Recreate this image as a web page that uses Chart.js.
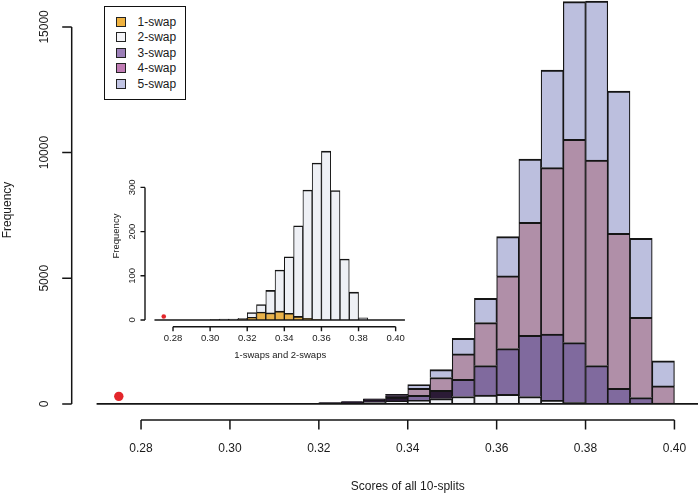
<!DOCTYPE html>
<html>
<head>
<meta charset="utf-8">
<script src="https://cdn.jsdelivr.net/npm/chart.js@4/dist/chart.umd.min.js"></script>
<style>
html,body{margin:0;padding:0;background:#fff;}
#wrap{position:relative;width:698px;height:498px;overflow:hidden;background:#fff;}
#wrap canvas{position:absolute;left:0;top:0;}
#legend{position:absolute;left:104px;top:6px;width:82px;height:94px;box-sizing:border-box;border:1.5px solid #111;background:#fff;font:12px "Liberation Sans",Arial,Helvetica,sans-serif;color:#1a1a1a;}
#legend .sw{position:absolute;left:10.5px;width:10px;height:10px;box-sizing:border-box;border:1px solid #222;}
#legend .lb{position:absolute;left:32.5px;line-height:14px;height:14px;white-space:nowrap;}
</style>
</head>
<body>
<div id="wrap">
  <canvas id="main" width="698" height="498"></canvas>
  <canvas id="inset" width="698" height="498"></canvas>
  <div id="legend"></div>
</div>
<script>
// ---------- data ----------
// left edges of the histogram bins (bin width 0.005)
const bins = [0.300,0.305,0.310,0.315,0.320,0.325,0.330,0.335,0.340,0.345,
              0.350,0.355,0.360,0.365,0.370,0.375,0.380,0.385,0.390,0.395];
const BIN_W = 0.005;
const seriesNames = ['1-swap','2-swap','3-swap','4-swap','5-swap'];
const swap1 = [0,0,0,1,6,18,16,20,15,8,4,1,0,0,0,0,0,0,0,0];
const swap2 = [1,2,2,3,11,17,51,93,128,205,290,354,382,293,138,63,5,0,0,0];
const swap3 = [0,0,1,3,22,38,85,152,202,327,688,1170,1818,2437,2640,2377,1520,624,252,30];
const swap4 = [0,0,0,1,7,12,30,60,279,510,1007,1710,2892,4498,6623,8089,8181,6166,3196,686];
const swap5 = [0,0,0,0,4,8,17,60,145,316,624,969,1565,2518,3886,5475,6324,5660,3142,995];
const mainXTicks = [0.28,0.30,0.32,0.34,0.36,0.38,0.40];
const mainYTicks = [0,5000,10000,15000];
const insetXTicks = [0.28,0.30,0.32,0.34,0.36,0.38,0.40];
const insetYTicks = [0,100,200,300];
const observedScore = [0.275];   // red point
const observedMainY = [300];
const observedInsetY = [8];

// ---------- styles ----------
const FONT = '"Liberation Sans", Arial, Helvetica, sans-serif';
const barColors = ['#e9b24a','#f2f3f8','#806a9e','#b08fa8','#bcbfde'];
const insetColors = ['#e9b24a','#eef0f5'];
const legendColors = ['#efb23f','#f4f4f8','#9c7fb8','#c07cb4','#c1c4e3'];
const DARK = '#2b1b36';
const darkTailUpTo = 0.3375;      // tail bins drawn dark in the main plot
const darkExtra3 = [0.345];       // 3-swap bin drawn dark

const seriesVals = [swap1, swap2, swap3, swap4, swap5];
function pts(vals){ return bins.map((b,i)=>({x: b + BIN_W/2, y: vals[i]})); }

const rAxes = {
  id: 'rAxes',
  afterDatasetsDraw(chart, args, o){
    const ctx = chart.ctx, xs = chart.scales.x, ys = chart.scales.y, a = chart.chartArea;
    ctx.save();
    ctx.strokeStyle = '#141414';
    ctx.fillStyle = '#1a1a1a';
    ctx.lineCap = 'butt';
    // zero line of the histogram
    const y0 = ys.getPixelForValue(0);
    ctx.lineWidth = o.baseLw;
    ctx.beginPath();
    ctx.moveTo(xs.getPixelForValue(o.baseFrom), y0);
    ctx.lineTo(xs.getPixelForValue(o.baseTo), y0);
    ctx.stroke();
    // x axis
    ctx.lineWidth = o.lw;
    const xb = a.bottom;
    ctx.beginPath();
    ctx.moveTo(xs.getPixelForValue(o.xTicks[0]), xb);
    ctx.lineTo(xs.getPixelForValue(o.xTicks[o.xTicks.length-1]), xb);
    o.xTicks.forEach(t => { const px = xs.getPixelForValue(t); ctx.moveTo(px, xb); ctx.lineTo(px, xb + o.tick); });
    ctx.stroke();
    ctx.font = o.fontSize + 'px ' + FONT;
    ctx.textAlign = 'center';
    ctx.textBaseline = 'middle';
    o.xTicks.forEach(t => ctx.fillText(t.toFixed(2), xs.getPixelForValue(t), xb + o.xLabOff));
    ctx.fillText(o.xTitle, xs.getPixelForValue(o.xTitleAt), xb + o.xTitleOff);
    // y axis
    const xl = a.left;
    ctx.beginPath();
    ctx.moveTo(xl, ys.getPixelForValue(o.yTicks[0]));
    ctx.lineTo(xl, ys.getPixelForValue(o.yTicks[o.yTicks.length-1]));
    o.yTicks.forEach(t => { const py = ys.getPixelForValue(t); ctx.moveTo(xl, py); ctx.lineTo(xl - o.tick, py); });
    ctx.stroke();
    o.yTicks.forEach(t => {
      ctx.save(); ctx.translate(xl - o.yLabOff, ys.getPixelForValue(t)); ctx.rotate(-Math.PI/2);
      ctx.fillText(String(t), 0, 0); ctx.restore();
    });
    ctx.save(); ctx.translate(xl - o.yTitleOff, (a.top + a.bottom)/2); ctx.rotate(-Math.PI/2);
    ctx.fillText(o.yTitle, 0, 0); ctx.restore();
    ctx.restore();
  }
};

function mainColor(k){
  return c => {
    const b = bins[c.dataIndex];
    if (k >= 2 && b < darkTailUpTo) return DARK;
    if (k === 2 && darkExtra3.some(v => Math.abs(v - b) < 1e-9)) return DARK;
    return barColors[k];
  };
}

new Chart(document.getElementById('main'), {
  type: 'bar',
  data: {
    datasets: [
      ...seriesVals.map((vals, k) => ({
        type: 'bar', label: seriesNames[k], data: pts(vals),
        backgroundColor: mainColor(k), borderColor: '#151515',
        borderWidth: {top: 2, left: 1.2, right: 1.2, bottom: 0}, borderSkipped: false,
        barPercentage: 1, categoryPercentage: 1, stack: 'h'
      })),
      { type: 'scatter', label: 'observed', data: observedScore.map((s,i)=>({x: s, y: observedMainY[i]})),
        pointRadius: 4.7, pointBackgroundColor: '#e3262b', pointBorderWidth: 0, stack: 'dot', clip: false }
    ]
  },
  options: {
    animation: false, responsive: false, devicePixelRatio: 1,
    layout: {autoPadding: false, padding: {left: 71.7, right: 0, top: 0, bottom: 78}},
    plugins: {
      legend: {display: false}, tooltip: {enabled: false},
      rAxes: {xTicks: mainXTicks, yTicks: mainYTicks, fontSize: 12, tick: 9.5, lw: 1.5, baseLw: 1.8,
              baseFrom: 0.27, baseTo: 0.41, xLabOff: 29, xTitle: 'Scores of all 10-splits', xTitleAt: 0.34,
              xTitleOff: 67, yLabOff: 27, yTitle: 'Frequency', yTitleOff: 64}
    },
    scales: {
      x: {type: 'linear', min: 0.2644, max: 0.4053, display: false, stacked: true, offset: false},
      y: {type: 'linear', min: -640, max: 16071, display: false, stacked: true}
    }
  },
  plugins: [rAxes]
});

new Chart(document.getElementById('inset'), {
  type: 'bar',
  data: {
    datasets: [
      ...[swap1, swap2].map((vals, k) => ({
        type: 'bar', label: seriesNames[k], data: pts(vals),
        backgroundColor: insetColors[k], borderColor: '#151515',
        borderWidth: {top: 1.6, left: 1, right: 1, bottom: 0}, borderSkipped: false,
        barPercentage: 1, categoryPercentage: 1, stack: 'h'
      })),
      { type: 'scatter', label: 'observed', data: observedScore.map((s,i)=>({x: s, y: observedInsetY[i]})),
        pointRadius: 2.3, pointBackgroundColor: '#e3262b', pointBorderWidth: 0, stack: 'dot', clip: false }
    ]
  },
  options: {
    animation: false, responsive: false, devicePixelRatio: 1,
    layout: {autoPadding: false, padding: {left: 145, right: 282.5, top: 145.4, bottom: 171.3}},
    plugins: {
      legend: {display: false}, tooltip: {enabled: false},
      rAxes: {xTicks: insetXTicks, yTicks: insetYTicks, fontSize: 9.5, tick: 4.5, lw: 1.4, baseLw: 1.5,
              baseFrom: 0.27, baseTo: 0.405, xLabOff: 11.8, xTitle: '1-swaps and 2-swaps', xTitleAt: 0.3378,
              xTitleOff: 28.3, yLabOff: 12.3, yTitle: 'Frequency', yTitleOff: 28.3}
    },
    scales: {
      x: {type: 'linear', min: 0.2649, max: 0.4107, display: false, stacked: true, offset: false},
      y: {type: 'linear', min: -15.2, max: 395, display: false, stacked: true}
    }
  },
  plugins: [rAxes]
});

// legend (HTML, real text)
const lg = document.getElementById('legend');
seriesNames.forEach((name, k) => {
  const cy = 14.8 + 15.5 * k;
  const sw = document.createElement('span');
  sw.className = 'sw'; sw.style.top = (cy - 5) + 'px'; sw.style.background = legendColors[k];
  const lb = document.createElement('span');
  lb.className = 'lb'; lb.style.top = (cy - 7) + 'px'; lb.textContent = name;
  lg.appendChild(sw); lg.appendChild(lb);
});
</script>
</body>
</html>
